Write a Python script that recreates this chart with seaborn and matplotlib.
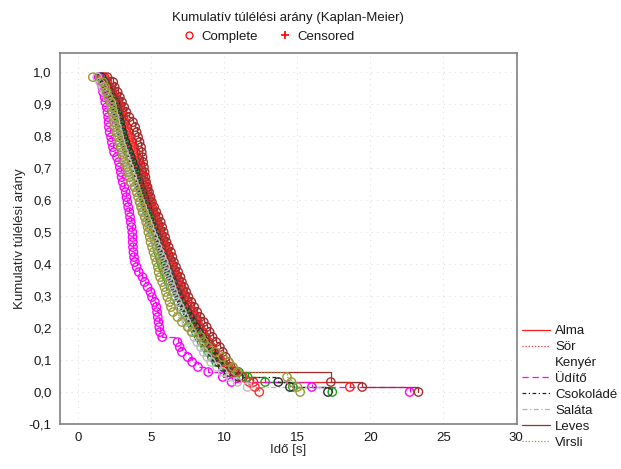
import numpy as np
import pandas as pd
import matplotlib
matplotlib.use("Agg")
import matplotlib.pyplot as plt
from matplotlib.lines import Line2D
from matplotlib.ticker import FuncFormatter
import seaborn as sns

# ---------------- data (event times in seconds) ----------------
groups = ["Alma", "Sör", "Kenyér", "Üdítő", "Csokoládé", "Saláta", "Leves", "Virsli"]

alma_events = [1.8, 2.0, 2.2, 2.35, 2.55, 2.75, 2.86, 2.98, 3.1, 3.22, 3.35, 3.48, 3.6, 3.71, 3.82, 3.93,
               4.04, 4.15, 4.27, 4.38, 4.47, 4.56, 4.65, 4.74, 4.84, 4.95, 5.06, 5.17, 5.28, 5.39, 5.5, 5.6,
               5.73, 5.85, 5.98, 6.1, 6.23, 6.35, 6.5, 6.64, 6.78, 6.92, 7.06, 7.2, 7.33, 7.5, 7.67, 7.84,
               8.01, 8.18, 8.35, 8.55, 8.75, 8.95, 9.15, 9.35, 9.55, 9.9, 10.2, 10.6, 11.2, 12.0, 18.6]
alma_censored = [18.6]

sor_events = [1.7, 1.9, 2.1, 2.25, 2.45, 2.65, 2.75, 2.86, 2.97, 3.08, 3.19, 3.3, 3.41, 3.52, 3.63, 3.74,
              3.85, 3.96, 4.07, 4.18, 4.29, 4.4, 4.51, 4.62, 4.73, 4.84, 4.95, 5.06, 5.17, 5.28, 5.39, 5.5,
              5.63, 5.75, 5.88, 6.0, 6.13, 6.25, 6.38, 6.5, 6.63, 6.75, 6.88, 7.0, 7.13, 7.32, 7.5, 7.7,
              7.88, 8.06, 8.25, 8.45, 8.66, 8.86, 9.06, 9.27, 9.48, 9.8, 10.3, 10.8, 11.3, 11.7, 12.1, 12.4]
sor_censored = []

kenyer_events = [1.5, 1.7, 1.9, 2.05, 2.25, 2.45, 2.52, 2.6, 2.68, 2.75, 2.85, 2.93, 3.02, 3.15, 3.28, 3.4,
                 3.52, 3.65, 3.78, 3.88, 3.99, 4.1, 4.2, 4.32, 4.43, 4.53, 4.62, 4.72, 4.82, 4.9, 5.0, 5.1,
                 5.2, 5.3, 5.38, 5.47, 5.57, 5.67, 5.78, 5.92, 6.05, 6.2, 6.33, 6.48, 6.62, 6.85, 7.05, 7.25,
                 7.45, 7.65, 7.85, 8.05, 8.25, 8.45, 8.7, 8.9, 9.15, 9.45, 10.1, 11.0, 11.6, 12.8, 14.7, 17.4]
kenyer_censored = []

uditeo_events = [1.4, 1.55, 1.65, 1.7, 1.8, 1.85, 1.95, 2.0, 2.05, 2.08, 2.1, 2.15, 2.25, 2.3, 2.38, 2.45,
                 2.65, 2.78, 2.85, 2.92, 2.97, 3.05, 3.15, 3.25, 3.3, 3.37, 3.42, 3.5, 3.55, 3.6, 3.65, 3.7,
                 3.72, 3.73, 3.75, 3.78, 3.82, 3.88, 4.0, 4.15, 4.4, 4.55, 4.75, 4.95, 5.05, 5.25, 5.35, 5.4,
                 5.45, 5.5, 5.55, 5.6, 5.75, 6.8, 6.95, 7.1, 7.5, 7.8, 8.2, 8.9, 9.9, 10.5, 16.0, 22.7]
uditeo_censored = []

csoki_events = [1.6, 1.8, 2.0, 2.15, 2.35, 2.55, 2.63, 2.7, 2.78, 2.86, 2.94, 3.02, 3.1, 3.23, 3.35, 3.48,
                3.6, 3.72, 3.85, 3.96, 4.07, 4.18, 4.28, 4.4, 4.52, 4.62, 4.73, 4.84, 4.95, 5.06, 5.18, 5.3,
                5.41, 5.52, 5.63, 5.74, 5.85, 5.96, 6.08, 6.22, 6.36, 6.5, 6.64, 6.78, 6.92, 7.1, 7.3, 7.48,
                7.66, 7.85, 8.05, 8.25, 8.48, 8.7, 8.92, 9.15, 9.38, 9.6, 9.9, 10.3, 11.0, 13.7, 14.5, 17.1]
csoki_censored = []

salata_events = [1.3, 1.5, 1.7, 1.85, 2.05, 2.25, 2.33, 2.4, 2.5, 2.55, 2.65, 2.72, 2.8, 2.9, 3.0, 3.13,
                 3.25, 3.35, 3.48, 3.58, 3.7, 3.8, 3.92, 4.02, 4.13, 4.25, 4.38, 4.5, 4.62, 4.75, 4.88, 5.0,
                 5.14, 5.28, 5.42, 5.56, 5.7, 5.85, 5.95, 6.05, 6.15, 6.28, 6.38, 6.5, 6.62, 6.78, 6.95, 7.1,
                 7.25, 7.4, 7.58, 7.75, 7.95, 8.15, 8.4, 8.6, 8.85, 9.1, 9.5, 9.9, 10.4, 10.9, 11.6]
salata_censored = [17.0]

leves_events = [2.0, 2.4, 2.5, 2.7, 2.85, 3.0, 3.15, 3.3, 3.5, 3.75, 3.9, 4.0, 4.1, 4.2, 4.3, 4.35,
                4.4, 4.45, 4.5, 4.55, 4.6, 4.65, 4.75, 4.85, 4.95, 5.05, 5.2, 5.35, 5.5, 5.65, 5.75, 5.85,
                5.95, 6.05, 6.2, 6.35, 6.45, 6.55, 6.7, 6.85, 7.0, 7.1, 7.25, 7.4, 7.55, 7.75, 7.95, 8.15,
                8.35, 8.6, 8.8, 9.0, 9.2, 9.45, 9.7, 9.9, 10.1, 10.3, 10.45, 10.7, 17.3, 17.3, 19.45, 23.3]
leves_censored = []

virsli_events = [1.0, 1.7, 1.85, 1.95, 2.05, 2.2, 2.3, 2.35, 2.4, 2.45, 2.5, 2.6, 2.7, 2.8, 2.9, 3.0,
                 3.05, 3.15, 3.3, 3.4, 3.5, 3.6, 3.85, 4.0, 4.1, 4.2, 4.3, 4.4, 4.55, 4.65, 4.75, 4.8,
                 4.9, 4.95, 5.05, 5.15, 5.25, 5.35, 5.45, 5.5, 5.6, 5.75, 5.9, 6.0, 6.1, 6.25, 6.35, 6.5,
                 6.8, 7.1, 7.5, 7.8, 8.4, 8.6, 8.9, 9.4, 9.9, 10.3, 10.6, 10.9, 14.3, 14.6, 15.0, 15.2]
virsli_censored = []

events = [alma_events, sor_events, kenyer_events, uditeo_events,
          csoki_events, salata_events, leves_events, virsli_events]
censored = [alma_censored, sor_censored, kenyer_censored, uditeo_censored,
            csoki_censored, salata_censored, leves_censored, virsli_censored]

x_ticks = [0, 5, 10, 15, 20, 25, 30]
y_ticks = [-0.1, 0.0, 0.1, 0.2, 0.3, 0.4, 0.5, 0.6, 0.7, 0.8, 0.9, 1.0]

# ---------------- styles ----------------
line_colors = ["#FF1A1A", "#FF3030", "#00A000", "#FF00FF", "#222222", "#B4B4B4", "#A52A2A", "#999933"]
marker_colors = ["#FF2020", "#FF3030", "#20A020", "#FF00FF", "#303030", "#BEBEBE", "#A03030", "#9A9A3A"]
line_dashes = ["-", (0, (1, 1.5)), "-", (0, (5, 3)), (0, (3, 2, 1, 2)), (0, (4, 2, 1, 2)), "-", (0, (1, 1.5))]


def kaplan_meier(ev, ce):
    ev = np.asarray(ev, float)
    ce = np.asarray(ce, float)
    allt = np.concatenate([ev, ce])
    s = 1.0
    ts, ss = [], []
    for t in np.unique(ev):
        d = np.sum(ev == t)
        r = np.sum(allt >= t)
        s *= (1 - d / r)
        ts.append(t)
        ss.append(s)
    return np.array(ts), np.array(ss)


sns.set_style("white")
plt.rcParams["font.family"] = ["Liberation Sans", "DejaVu Sans"]
plt.rcParams["text.color"] = "#1a1a1a"

fig = plt.figure(figsize=(6.21, 4.69), dpi=100)
ax = fig.add_axes([60 / 621, 1 - 424 / 469, (517 - 60) / 621, (424 - 53) / 469])

for g, ev, ce, lc, mc, ls in zip(groups, events, censored, line_colors, marker_colors, line_dashes):
    ts, ss = kaplan_meier(ev, ce)
    lx = list(ts)
    ly = list(ss)
    if len(ce) and max(ce) > ts[-1]:
        lx.append(max(ce))
        ly.append(ss[-1])
    dline = pd.DataFrame({"t": lx, "s": ly})
    sns.lineplot(data=dline, x="t", y="s", ax=ax, color=lc, linewidth=0.9,
                 drawstyle="steps-post", estimator=None, sort=False, linestyle=ls, zorder=2)
    dpts = pd.DataFrame({"t": ts, "s": ss})
    sns.scatterplot(data=dpts, x="t", y="s", ax=ax, marker="o", s=36, color=mc,
                    facecolor="none", edgecolor=mc, linewidth=1.0, zorder=3)

ax.set_xlim(-1.25, 30.05)
ax.set_ylim(-0.1, 1.06)
ax.set_xticks(x_ticks)
ax.set_yticks(y_ticks)
ax.xaxis.set_major_formatter(FuncFormatter(lambda v, p: f"{v:.0f}"))
ax.yaxis.set_major_formatter(FuncFormatter(lambda v, p: f"{v:.1f}".replace(".", ",").replace("-0,0", "0,0")))
ax.tick_params(axis="both", direction="in", length=3, width=0.8, color="#555555",
               labelsize=9.5, labelcolor="#1a1a1a", pad=6)
for sp in ax.spines.values():
    sp.set_color("#808080")
    sp.set_linewidth(1.2)
ax.grid(True, color="#e0e0e0", linestyle=(0, (1, 4)), linewidth=0.8)
ax.set_axisbelow(True)
ax.set_xlabel("Idő [s]", fontsize=9.5, labelpad=0)
ax.set_ylabel("Kumulatív túlélési arány", fontsize=9.5, labelpad=2)

# title and top legend
fig.text(288 / 621, 1 - 18 / 469, "Kumulatív túlélési arány (Kaplan-Meier)", ha="center", va="center", fontsize=9.5)
top_handles = [Line2D([], [], marker="o", linestyle="none", markerfacecolor="none", markeredgecolor="red",
                      markersize=5, markeredgewidth=0.9),
               Line2D([], [], marker="+", linestyle="none", color="red", markersize=6, markeredgewidth=1.2)]
fig.legend(top_handles, ["Complete", "Censored"], loc="center", bbox_to_anchor=(268 / 621, 1 - 37 / 469),
           ncol=2, frameon=False, fontsize=9.5, handletextpad=0.3, columnspacing=1.5, handlelength=1.2)

# right legend
side_handles = []
for i, (lc, ls) in enumerate(zip(line_colors, line_dashes)):
    if groups[i] == "Kenyér":
        side_handles.append(Line2D([], [], color="none"))
    else:
        side_handles.append(Line2D([], [], color=lc, linestyle=ls, linewidth=0.9))
fig.legend(side_handles, groups, loc="upper left", bbox_to_anchor=(522 / 621, 1 - 325 / 469),
           frameon=False, fontsize=9.5, handlelength=2.1, handletextpad=0.4, labelspacing=0.28,
           borderaxespad=0, borderpad=0)

fig.savefig("out.png", dpi=100)
